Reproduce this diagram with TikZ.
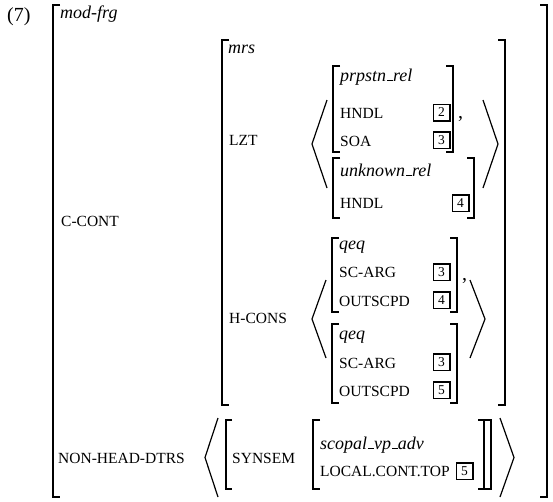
\documentclass[tikz,border=0pt]{standalone}
\usepackage{fontspec}
\setmainfont{Liberation Serif}
\newcommand\us{\kern.06em\vbox{\hrule width .3em height .9pt}\kern.02em}
\newcommand\avmL[4][7]{\draw[brk] (#2+#1,#3) -- (#2,#3) -- (#2,#4) -- (#2+#1,#4);}
\newcommand\avmR[4][7]{\draw[brk] (#2-#1,#3) -- (#2,#3) -- (#2,#4) -- (#2-#1,#4);}
\newcommand\angL[4]{\draw[ang] (#2,#3) -- (#1,{(#3+#4)/2}) -- (#2,#4);}
\newcommand\angR[4]{\draw[ang] (#1,#3) -- (#2,{(#3+#4)/2}) -- (#1,#4);}
\tikzset{
  brk/.style={line width=1.6pt, line cap=butt},
  ang/.style={line width=1.2pt},
  typ/.style={font=\fontsize{18}{20}\selectfont\itshape, anchor=base west, inner sep=0pt},
  feat/.style={font=\fontsize{15.5}{17}\selectfont, anchor=base west, inner sep=0pt},
  plain/.style={font=\fontsize{20}{22}\selectfont, anchor=base west, inner sep=0pt},
  tagbox/.style={draw, line width=1.5pt, minimum size=16.5pt, inner sep=0pt, font=\fontsize{13.5}{14}\selectfont},
}
\begin{document}
\begin{tikzpicture}[x=1pt,y=-1pt]
\useasboundingbox (0,0) rectangle (553,501);
% example number
\node[plain] (ex) at (7,21) {(7)};
% outer AVM
\avmL{53}{5}{497}
\avmR{547}{5}{497}
\node[typ] (modfrg) at (60,18) {mod-frg};
\node[feat] (ccont) at (61,226) {C-CONT};
% mrs AVM
\avmL{222}{40}{405}
\avmR{505}{40}{405}
\node[typ] (mrs) at (228,53) {mrs};
\node[feat] (lzt) at (229,145) {LZT};
\angL{312}{327}{100}{188}
\angR{483}{498}{100}{188}
% prpstn_rel
\avmL{333}{66}{152}
\avmR{453}{66}{152}
\node[typ] (prp) at (340,81) {prpstn\us rel};
\node[feat] (hndlA) at (340,118) {HNDL};
\node[feat] (soa) at (340,146) {SOA};
\node[tagbox] (t2) at (441.5,112.5) {2};
\node[tagbox] (t3a) at (441.5,140) {3};
\node[plain] (c1) at (458,118) {,};
% unknown_rel
\avmL{333}{158}{218}
\avmR{474}{158}{218}
\node[typ] (unk) at (340,176) {unknown\us rel};
\node[feat] (hndlB) at (340,208) {HNDL};
\node[tagbox] (t4a) at (460.5,203) {4};
% H-CONS
\node[feat] (hcons) at (229,323) {H-CONS};
\angL{312}{326}{280}{358}
\angR{470}{485}{280}{358}
% qeq 1
\avmL{332}{238}{312}
\avmR{457}{238}{312}
\node[typ] (qeqA) at (339,249) {qeq};
\node[feat] (scA) at (339,277) {SC-ARG};
\node[feat] (outA) at (339,306) {OUTSCPD};
\node[tagbox] (t3b) at (441.5,272) {3};
\node[tagbox] (t4b) at (441.5,300) {4};
\node[plain] (c2) at (462,280) {,};
% qeq 2
\avmL{332}{324}{403}
\avmR{457}{324}{403}
\node[typ] (qeqB) at (339,339) {qeq};
\node[feat] (scB) at (339,368) {SC-ARG};
\node[feat] (outB) at (339,396) {OUTSCPD};
\node[tagbox] (t3c) at (441.5,362) {3};
\node[tagbox] (t5a) at (441.5,390) {5};
% NON-HEAD-DTRS
\node[feat] (nhd) at (58,463) {NON-HEAD-DTRS};
\angL{205}{218}{418}{497}
\avmL[6]{226}{420}{489}
\node[feat] (synsem) at (232,463) {SYNSEM};
\avmL{313}{420}{489}
\node[typ] (sva) at (320,449) {scopal\us vp\us adv};
\node[feat] (lct) at (320,476) {LOCAL.CONT.TOP};
\node[tagbox] (t5b) at (464.5,471) {5};
\avmR[6]{484}{420}{489}
\avmR[6]{491}{420}{489}
\angR{500}{514}{418}{497}
\end{tikzpicture}
\end{document}
